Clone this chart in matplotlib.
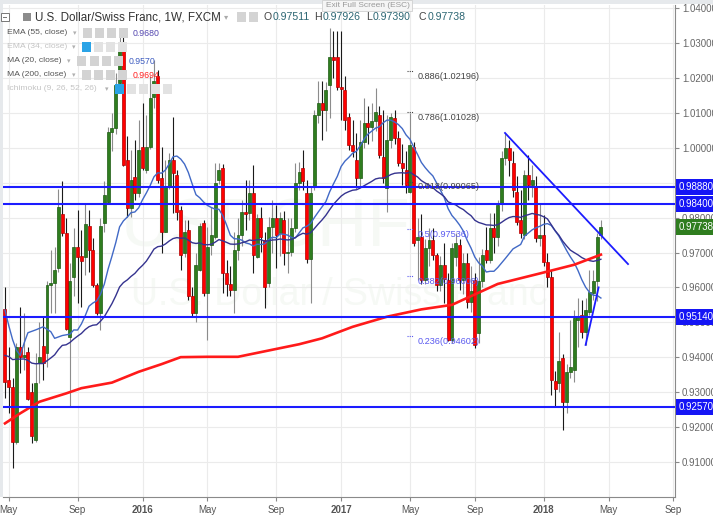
import numpy as np
import pandas as pd
import matplotlib
matplotlib.use("Agg")
import matplotlib.pyplot as plt
from matplotlib.patches import Rectangle
import matplotlib.transforms as mtransforms

W, H = 713, 519
FONT = "Liberation Sans"
plt.rcParams['font.family'] = [FONT, 'DejaVu Sans']

start = pd.Timestamp("2015-04-26")  # first weekly bar

opens = [0.9538, 0.9334, 0.9313, 0.9156, 0.9428, 0.9401, 0.9414, 0.9299, 0.9162, 0.9382,
         0.9433, 0.9411, 0.9607, 0.9612, 0.9655, 0.9811, 0.9755, 0.9459, 0.9631, 0.9715,
         0.9690, 0.9687, 0.9776, 0.9708, 0.9607, 0.9526, 0.9786, 0.9846, 1.0047, 1.0057,
         1.0186, 1.0293, 0.9966, 0.9827, 0.9918, 0.9870, 1.0004, 0.9937, 1.0004, 1.0147,
         1.0205, 0.9913, 0.9760, 0.9889, 0.9966, 0.9923, 0.9822, 0.9698, 0.9765, 0.9574,
         0.9526, 0.9650, 0.9784, 0.9583, 0.9722, 0.9746, 0.9908, 0.9942, 0.9641, 0.9610,
         0.9593, 0.9708, 0.9751, 0.9817, 0.9814, 0.9870, 0.9688, 0.9799, 0.9736, 0.9612,
         0.9774, 0.9799, 0.9755, 0.9794, 0.9698, 0.9702, 0.9770, 0.9899, 0.9942, 0.9870,
         0.9681, 0.9889, 1.0095, 1.0129, 1.0109, 1.0181, 1.0262, 1.0261, 1.0176, 1.0167,
         1.0090, 1.0009, 0.9966, 0.9913, 1.0018, 1.0071, 1.0060, 1.0076, 1.0095, 0.9975,
         0.9885, 1.0023, 1.0085, 1.0028, 0.9956, 0.9937, 0.9875, 1.0004, 0.9736, 0.9746,
         0.9621, 0.9712, 0.9736, 0.9693, 0.9607, 0.9665, 0.9621, 0.9449, 0.9688, 0.9722,
         0.9621, 0.9669, 0.9559, 0.9621, 0.9468, 0.9617, 0.9708, 0.9679, 0.9770, 0.9746,
         0.9842, 0.9971, 1.0000, 0.9956, 0.9875, 0.9794, 0.9751, 0.9923, 0.9894, 0.9889,
         0.9741, 0.9751, 0.9674, 0.9630, 0.9332, 0.9325, 0.9397, 0.9272, 0.9358, 0.9363,
         0.9507, 0.9521, 0.9473, 0.9530, 0.9583, 0.9617, 0.97511]
highs = [0.9600, 0.9430, 0.9340, 0.9440, 0.9545, 0.9527, 0.9430, 0.9325, 0.9411, 0.9502,
         0.9516, 0.9617, 0.9708, 0.9717, 0.9882, 0.9904, 0.9799, 0.9669, 0.9770, 0.9822,
         0.9765, 0.9842, 0.9822, 0.9741, 0.9612, 0.9799, 0.9904, 1.0061, 1.0100, 1.0215,
         1.0325, 1.0320, 1.0033, 0.9995, 1.0023, 1.0081, 1.0129, 1.0095, 1.0205, 1.0253,
         1.0224, 1.0004, 0.9966, 0.9985, 1.0090, 0.9937, 0.9833, 0.9794, 0.9794, 0.9602,
         0.9698, 0.9784, 0.9794, 0.9774, 0.9832, 0.9956, 0.9956, 0.9953, 0.9680, 0.9660,
         0.9760, 0.9800, 0.9851, 0.9908, 0.9908, 0.9952, 0.9810, 0.9832, 0.9760, 0.9803,
         0.9851, 0.9835, 0.9817, 0.9820, 0.9800, 0.9800, 0.9956, 0.9961, 0.9995, 0.9908,
         0.9889, 1.0109, 1.0191, 1.0191, 1.0190, 1.0344, 1.0334, 1.0334, 1.0334, 1.0205,
         1.0100, 1.0081, 1.0042, 1.0081, 1.0143, 1.0120, 1.0129, 1.0172, 1.0119, 1.0108,
         1.0095, 1.0100, 1.0109, 1.0050, 1.0010, 0.9990, 1.0100, 1.0018, 0.9800, 0.9810,
         0.9740, 0.9770, 0.9770, 0.9700, 0.9690, 0.9728, 0.9640, 0.9727, 0.9755, 0.9740,
         0.9700, 0.9700, 0.9660, 0.9641, 0.9688, 0.9710, 0.9774, 0.9814, 0.9814, 0.9850,
         0.9990, 1.0042, 1.0023, 0.9990, 0.9920, 0.9880, 0.9937, 0.9980, 0.9952, 0.9920,
         0.9842, 0.9808, 0.9700, 0.9650, 0.9360, 0.9473, 0.9410, 0.9380, 0.9507, 0.9535,
         0.9569, 0.9564, 0.9570, 0.9650, 0.9650, 0.9755, 0.97926]
lows = [0.9282, 0.9240, 0.9081, 0.9150, 0.9354, 0.9363, 0.9277, 0.9153, 0.9157, 0.9325,
        0.9334, 0.9373, 0.9526, 0.9526, 0.9645, 0.9747, 0.9478, 0.9258, 0.9574, 0.9555,
        0.9545, 0.9636, 0.9645, 0.9602, 0.9521, 0.9478, 0.9760, 0.9843, 0.9990, 1.0040,
        1.0170, 0.9947, 0.9803, 0.9803, 0.9851, 0.9860, 0.9937, 0.9928, 0.9998, 1.0114,
        0.9900, 0.9698, 0.9758, 0.9883, 0.9813, 0.9794, 0.9650, 0.9688, 0.9564, 0.9516,
        0.9502, 0.9647, 0.9574, 0.9449, 0.9694, 0.9740, 0.9896, 0.9583, 0.9575, 0.9574,
        0.9526, 0.9680, 0.9720, 0.9765, 0.9794, 0.9641, 0.9685, 0.9702, 0.9540, 0.9600,
        0.9700, 0.9656, 0.9690, 0.9665, 0.9640, 0.9690, 0.9760, 0.9880, 0.9880, 0.9670,
        0.9555, 0.9880, 1.0072, 1.0023, 1.0050, 1.0086, 1.0200, 1.0167, 1.0081, 1.0052,
        0.9995, 0.9975, 0.9885, 0.9890, 1.0000, 1.0010, 1.0020, 1.0050, 0.9970, 0.9900,
        0.9817, 1.0000, 1.0010, 0.9947, 0.9894, 0.9870, 0.9870, 0.9720, 0.9621, 0.9610,
        0.9610, 0.9660, 0.9680, 0.9590, 0.9590, 0.9555, 0.9445, 0.9440, 0.9660, 0.9593,
        0.9580, 0.9540, 0.9530, 0.9425, 0.9440, 0.9600, 0.9670, 0.9670, 0.9700, 0.9720,
        0.9820, 0.9950, 0.9920, 0.9860, 0.9780, 0.9741, 0.9740, 0.9850, 0.9860, 0.9731,
        0.9720, 0.9660, 0.9600, 0.9291, 0.9258, 0.9300, 0.9191, 0.9240, 0.9340, 0.9330,
        0.9430, 0.9454, 0.9435, 0.9520, 0.9565, 0.9560, 0.97390]
closes = [0.9328, 0.9313, 0.9156, 0.9428, 0.9401, 0.9405, 0.9279, 0.9175, 0.9327, 0.9400,
          0.9382, 0.9607, 0.9613, 0.9650, 0.9832, 0.9755, 0.9481, 0.9617, 0.9717, 0.9688,
          0.9677, 0.9782, 0.9708, 0.9607, 0.9526, 0.9776, 0.9865, 1.0047, 1.0057, 1.0181,
          1.0286, 0.9952, 0.9827, 0.9908, 0.9870, 0.9995, 0.9942, 1.0004, 1.0143, 1.0191,
          0.9908, 0.9760, 0.9889, 0.9966, 0.9928, 0.9817, 0.9693, 0.9760, 0.9574, 0.9526,
          0.9664, 0.9775, 0.9583, 0.9717, 0.9751, 0.9899, 0.9937, 0.9641, 0.9610, 0.9593,
          0.9708, 0.9751, 0.9817, 0.9810, 0.9870, 0.9693, 0.9799, 0.9746, 0.9602, 0.9774,
          0.9799, 0.9751, 0.9799, 0.9698, 0.9702, 0.9770, 0.9899, 0.9932, 0.9904, 0.9681,
          0.9870, 1.0095, 1.0129, 1.0109, 1.0167, 1.0262, 1.0252, 1.0176, 1.0170, 1.0081,
          1.0009, 0.9990, 0.9913, 1.0018, 1.0071, 1.0060, 1.0076, 1.0104, 0.9980, 0.9913,
          1.0023, 1.0090, 1.0028, 0.9956, 0.9942, 0.9894, 1.0009, 0.9727, 0.9746, 0.9621,
          0.9712, 0.9736, 0.9693, 0.9607, 0.9665, 0.9625, 0.9449, 0.9712, 0.9727, 0.9621,
          0.9669, 0.9559, 0.9590, 0.9435, 0.9617, 0.9693, 0.9679, 0.9770, 0.9746, 0.9837,
          0.9971, 1.0000, 0.9966, 0.9880, 0.9789, 0.9755, 0.9923, 0.9894, 0.9908, 0.9741,
          0.9751, 0.9674, 0.9630, 0.9334, 0.9308, 0.9390, 0.9272, 0.9358, 0.9372, 0.9511,
          0.9516, 0.9473, 0.9535, 0.9588, 0.9617, 0.9746, 0.97738]

ma20_early_idx = [0, 1, 2, 3, 4, 5, 6, 8, 10, 12, 13, 15, 17, 18]
ma20_early = [0.9535, 0.9490, 0.9450, 0.9420, 0.9405, 0.9440, 0.9470, 0.9478, 0.9487,
              0.9473, 0.9454, 0.9462, 0.9466, 0.9478]
ema55_seed = 0.9405
ma200_idx = [0, 4, 9, 16, 20, 28, 35, 41, 46, 53, 61, 69, 77, 83, 91, 100, 109, 117,
             129, 140, 149, 156]
ma200_vals = [0.9210, 0.9239, 0.9272, 0.9296, 0.9311, 0.9327, 0.9358, 0.9380, 0.9400,
              0.9401, 0.9401, 0.9419, 0.9437, 0.9454, 0.9487, 0.9516, 0.9537, 0.9550,
              0.9610, 0.9640, 0.9665, 0.9694]

sr_levels = [0.9888, 0.9840, 0.9514, 0.9257]
sr_labels = ["0.98880", "0.98400", "0.95140", "0.92570"]
last_label = "0.97738"

trend_down_idx = [130.9, 163.1]
trend_down_px = [1.0043, 0.9667]
trend_up_idx = [152.0, 155.4]
trend_up_px = [0.9435, 0.9600]

fib_labels = ["0.886(1.02196)", "0.786(1.01028)", "0.618(0.99065)",
              "0.5(0.97536)", "0.382(0.96008)", "0.236(0.94602)"]
fib_pos = [1.0205, 1.0088, 0.9889, 0.9753, 0.9617, 0.9446]
fib_colors = ["#444444", "#444444", "#444444", "#5a5af0", "#5a5af0", "#5a5af0"]

yticks = [0.91, 0.92, 0.93, 0.94, 0.95, 0.96, 0.97, 0.98, 0.99, 1.00, 1.01, 1.02, 1.03, 1.04]

# ------------------------------------------------------------------
fig = plt.figure(figsize=(W / 100, H / 100), dpi=100)
fig.patch.set_facecolor("white")
ax = fig.add_axes([3 / W, (H - 497) / H, 672 / W, 492 / H])
ax.set_xlim(-0.52, 175.4)
ax.set_ylim(0.89989, 1.04100)
ax.set_facecolor("white")

o = np.array(opens); h = np.array(highs); l = np.array(lows); c = np.array(closes)
idx = np.arange(len(c))
up = c >= o

# x ticks at first weekly bar of each 4th month
months = pd.date_range("2015-05-01", "2018-09-01", freq="4MS")
tick_idx, tick_lab = [], []
for m in months:
    tick_idx.append(int(np.ceil((m - start).days / 7)))
    tick_lab.append(str(m.year) if m.month == 1 else m.strftime("%b"))

ax.set_xticks(tick_idx)
ax.set_xticklabels(tick_lab)
for t, lab in zip(ax.get_xticklabels(), tick_lab):
    if lab.isdigit():
        t.set_fontweight("bold")
ax.set_yticks(yticks)
ax.set_yticklabels([f"{v:.5f}" for v in yticks])
ax.yaxis.tick_right()
ax.tick_params(axis="x", colors="#888888", labelcolor="#555555", labelsize=7, length=3, pad=3)
ax.tick_params(axis="y", colors="#888888", labelcolor="#666666", labelsize=7, length=3, pad=2)
ax.grid(True, color="#ebebeb", lw=0.8, zorder=0)
ax.set_axisbelow(True)
for s in ["top", "left"]:
    ax.spines[s].set_visible(False)
ax.spines["right"].set_color("#8a8a8a")
ax.spines["bottom"].set_color("#8a8a8a")

# watermark (very faint)
ax.text(0.175, 0.545, "USDCHF", transform=ax.transAxes, fontsize=50, color="#f6f9f5",
        ha="left", va="center", zorder=0.5)
ax.text(0.19, 0.41, "U.S. Dollar / Swiss Franc", transform=ax.transAxes, fontsize=27,
        color="#f6f9f5", ha="left", va="center", zorder=0.5)

# candles
ax.vlines(idx[up], l[up], h[up], color="#8c8c8c", lw=0.8, zorder=3)
ax.vlines(idx[~up], l[~up], h[~up], color="#1a1a1a", lw=0.8, zorder=3)
bb = np.minimum(o, c)
bh = np.maximum(np.abs(c - o), 0.00035)
ax.bar(idx[up], bh[up], bottom=bb[up], width=0.78, color="#2f7d1f",
       edgecolor="#1d5a12", lw=0.5, zorder=4)
ax.bar(idx[~up], bh[~up], bottom=bb[~up], width=0.78, color="#ff0000",
       edgecolor="#b00000", lw=0.5, zorder=4)

# indicators
cs = pd.Series(c)
ma20 = cs.rolling(20).mean()
ma20_x = list(ma20_early_idx) + list(range(19, len(c)))
ma20_y = list(ma20_early) + list(ma20.iloc[19:].values)
ax.plot(ma20_x, ma20_y, color="#4169c6", lw=1.0, zorder=5)

alpha = 2 / 56
ema = [ema55_seed]
for v in c[1:]:
    ema.append(ema[-1] + alpha * (v - ema[-1]))
ax.plot(idx, ema, color="#35338f", lw=1.0, zorder=5)
ax.plot(ma200_idx, ma200_vals, color="#ff1a1a", lw=1.9, zorder=5)

# support / resistance lines
for lv in sr_levels:
    ax.axhline(lv, color="#1c1cff", lw=1.5, zorder=6)
ax.plot(trend_down_idx, trend_down_px, color="#1c1cff", lw=1.3, zorder=6)
ax.plot(trend_up_idx, trend_up_px, color="#1c1cff", lw=1.3, zorder=6)

# fib labels
for lab, pv, col in zip(fib_labels, fib_pos, fib_colors):
    ax.plot([105.3, 106.9], [pv + 0.00145, pv + 0.00145], color=col, lw=0.8,
            ls=(0, (1, 1)), zorder=6)
    ax.text(108.1, pv, lab, color=col, fontsize=6.6, ha="left", va="center", zorder=7)

# price labels on the axis
blend = mtransforms.blended_transform_factory(ax.transAxes, ax.transData)
for lv, lab in zip(sr_levels, sr_labels):
    ax.text(1 + 3.5 / 672, lv, lab, transform=blend, color="white", fontsize=7,
            ha="left", va="center", clip_on=False, zorder=20,
            bbox=dict(boxstyle="square,pad=0.3", fc="#1515f5", ec="none"))
ax.text(1 + 3.5 / 672, c[-1], last_label, transform=blend, color="white", fontsize=7,
        ha="left", va="center", clip_on=False, zorder=20,
        bbox=dict(boxstyle="square,pad=0.3", fc="#2f7d1f", ec="none"))


# ------------------------------------------------------------------ overlay chrome
def frect(x, y, w, hh, **kw):
    r = Rectangle((x / W, 1 - (y + hh) / H), w / W, hh / H, transform=fig.transFigure,
                  zorder=kw.pop("zorder", 10), **kw)
    fig.add_artist(r)


def ftext(x, y, s, **kw):
    kw.setdefault("va", "center")
    kw.setdefault("ha", "left")
    kw.setdefault("zorder", 11)
    fig.text(x / W, 1 - y / H, s, **kw)


frect(0, 0, W, 4, fc="#e6e9ec", ec="none")
frect(0, 0, 3, 497, fc="#e6e9ec", ec="none")
frect(322, 0, 90, 11, fc="#f5f5f5", ec="#d0d0d0", lw=0.6, zorder=12)
ftext(326, 5.5, "Exit Full Screen (ESC)", fontsize=6, color="#9a9a9a", zorder=13)

# header
frect(1, 13, 8, 8, fc="white", ec="#777777", lw=0.7)
frect(3, 16.6, 4, 0.9, fc="#777777", ec="none", zorder=11)
frect(23, 13, 8, 8, fc="#8c8c8c", ec="none")
ftext(35, 17, "U.S. Dollar/Swiss Franc, 1W, FXCM", fontsize=8.4, color="#333333")
ftext(224, 17, "\u25be", fontsize=6, color="#aaaaaa", family="DejaVu Sans")
frect(237, 12.5, 9, 9, fc="#d4d4d4", ec="none")
frect(249, 12.5, 9, 9, fc="#d4d4d4", ec="none")
ohlc = [("O", "0.97511", 264), ("H", "0.97926", 314), ("L", "0.97390", 366), ("C", "0.97738", 419)]
for letter, val, xx in ohlc:
    ftext(xx, 17, letter, fontsize=7.6, color="#444444")
    ftext(xx + (8.5 if letter in "OHC" else 6.5), 17, val, fontsize=7.6, color="#2c6673")

rows = [
    (33, "EMA (55, close)", [83, 95, 107, 119], False, "0.9680", 133, "#5548b0", None),
    (47, "EMA (34, close)", [82, 94, 106, 118], True, None, None, None, 0),
    (61, "MA (20, close)", [77, 90, 102, 114], False, "0.9570", 129, "#3d5cc0", None),
    (75, "MA (200, close)", [82, 94, 106, 118], False, "0.9694", 133, "#ff2020", None),
    (89, "Ichimoku (9, 26, 52, 26)", [115, 127, 139, 151, 163], True, None, None, None, 0),
]
for y, name, icons, faded, val, vx, vcol, blue_i in rows:
    tcol = "#c4c4c4" if faded else "#555555"
    ftext(7, y, name, fontsize=6.1, color=tcol)
    ftext(icons[0] - 10, y, "\u25be", fontsize=5, color="#b0b0b0", family="DejaVu Sans")
    for k, ix in enumerate(icons):
        if blue_i is not None and k == blue_i:
            fc = "#2aa3e6"
        else:
            fc = "#e2e2e2" if faded else "#d3d3d3"
        frect(ix, y - 4.5, 9, 9, fc=fc, ec="none")
    if val:
        ftext(vx, y, val, fontsize=6.3, color=vcol)

fig.savefig("out.png", dpi=100)
